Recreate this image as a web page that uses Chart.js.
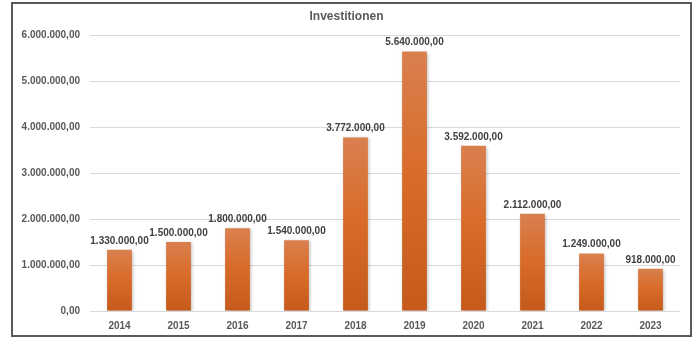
<!DOCTYPE html>
<html>
<head>
    <title>Investitionen</title>
    <script src="https://cdn.jsdelivr.net/npm/chart.js"></script>
    <style>
        html, body { margin: 0; padding: 0; background: white; }
        .chart-box {
            position: absolute;
            left: 11px;
            top: 2px;
            width: 677px;
            height: 331px;
            border: 2px solid #5a5a5a;
            background: white;
        }
    </style>
</head>
<body>
    <div class="chart-box">
        <canvas id="invChart" width="677" height="331"></canvas>
    </div>

    <script>
        const years = ['2014', '2015', '2016', '2017', '2018', '2019', '2020', '2021', '2022', '2023'];
        const investments = [1330000, 1500000, 1800000, 1540000, 3772000, 5640000, 3592000, 2112000, 1249000, 918000];
        const yTicks = [0, 1000000, 2000000, 3000000, 4000000, 5000000, 6000000];

        const FONT = '"Liberation Sans", Arial, sans-serif';

        // German number format: 1.330.000,00
        function fmt(v) {
            return v.toLocaleString('de-DE', { minimumFractionDigits: 2, maximumFractionDigits: 2 });
        }

        // gradient per bar, from its own top down to the base
        function barGradient(context) {
            const chart = context.chart;
            const y = chart.scales.y;
            if (!chart.chartArea || !y || context.raw === undefined) return '#d86d2c';
            const top = y.getPixelForValue(context.raw);
            const base = y.getPixelForValue(0);
            const g = chart.ctx.createLinearGradient(0, top, 0, base);
            g.addColorStop(0, '#d9804f');
            g.addColorStop(0.45, '#d96c2b');
            g.addColorStop(1, '#c55a1a');
            return g;
        }

        // soft shadow under the bars
        const barShadow = {
            id: 'barShadow',
            beforeDatasetsDraw(chart) {
                const c = chart.ctx;
                c.save();
                c.shadowColor = 'rgba(0,0,0,0.25)';
                c.shadowBlur = 3;
                c.shadowOffsetX = 1;
                c.shadowOffsetY = 1;
            },
            afterDatasetsDraw(chart) {
                chart.ctx.restore();
            }
        };

        const valueLabels = {
            id: 'valueLabels',
            afterDatasetsDraw(chart) {
                const c = chart.ctx;
                c.save();
                c.font = 'bold 10px ' + FONT;
                c.fillStyle = '#404040';
                c.textAlign = 'center';
                c.textBaseline = 'middle';
                chart.getDatasetMeta(0).data.forEach((bar, i) => {
                    c.fillText(fmt(investments[i]), bar.x, bar.y - 9);
                });
                c.restore();
            }
        };

        const ctx = document.getElementById('invChart').getContext('2d');
        const chart = new Chart(ctx, {
            type: 'bar',
            data: {
                labels: years,
                datasets: [{
                    label: 'Investitionen',
                    data: investments,
                    backgroundColor: barGradient,
                    barPercentage: 0.42,
                    categoryPercentage: 1.0
                }]
            },
            options: {
                responsive: false,
                animation: false,
                layout: { padding: { left: 0, right: 10, top: 0, bottom: 0 } },
                plugins: {
                    legend: { display: false },
                    tooltip: { enabled: false },
                    title: {
                        display: true,
                        text: 'Investitionen',
                        color: '#595959',
                        font: { family: FONT, size: 12, weight: 'bold' },
                        padding: { top: 5, bottom: 11.6 }
                    }
                },
                scales: {
                    x: {
                        grid: { display: false, drawTicks: false },
                        border: { display: false },
                        ticks: {
                            color: '#595959',
                            font: { family: FONT, size: 10, weight: 'bold' },
                            padding: 9
                        },
                        afterFit(scale) { scale.height = 24; }
                    },
                    y: {
                        min: 0,
                        max: 6000000,
                        afterBuildTicks(scale) {
                            scale.ticks = yTicks.map(v => ({ value: v }));
                        },
                        grid: { color: '#d9d9d9', drawTicks: false },
                        border: { display: false },
                        ticks: {
                            color: '#595959',
                            font: { family: FONT, size: 10, weight: 'bold' },
                            padding: 10,
                            callback: v => fmt(v)
                        },
                        afterFit(scale) { scale.width = 77; }
                    }
                }
            },
            plugins: [barShadow, valueLabels]
        });
    </script>
</body>
</html>
